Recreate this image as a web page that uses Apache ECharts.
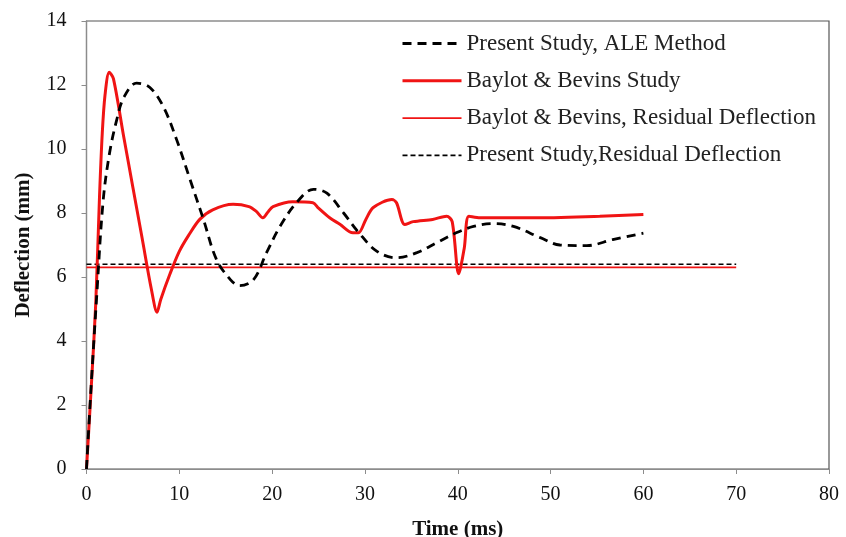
<!DOCTYPE html>
<html><head><meta charset="utf-8">
<script src="https://cdn.jsdelivr.net/npm/echarts@6/dist/echarts.min.js"></script>
<style>html,body{margin:0;padding:0;background:#fff}#c{width:846px;height:537px}</style>
</head><body><div id="c"></div>
<script>
const seriesNames = ['Present Study, ALE Method','Baylot & Bevins Study','Baylot & Bevins, Residual Deflection','Present Study,Residual Deflection'];
const aleTime = [0,0.5,1.1,1.8,2.5,3.25,4.0,5.4,6.8,8.25,9.7,11.15,12.6,14,15.5,16.5,18,19.4,20.85,22.65,24.45,25.9,27.7,29.3,31.3,33.4,35.6,37.8,39.9,41.7,43.8,46,48.9,51,53.9,56.7,60];
const aleDefl = [0,2.6,5.4,8.4,9.9,10.9,11.6,12.06,11.93,11.34,10.3,9.05,7.8,6.55,5.92,5.73,5.92,6.76,7.58,8.33,8.74,8.62,8.0,7.4,6.8,6.6,6.76,7.08,7.39,7.58,7.67,7.58,7.23,7.0,6.98,7.17,7.37];
const bbTime = [0,0.5,1.0,1.4,1.7,2.0,2.45,2.9,4,5,6,7,7.6,8,9,10,11,12.2,13.6,15.8,17.5,18.3,19.0,19.6,20.1,22.2,24.4,25,26.2,27.3,28.7,29.3,30.1,30.9,32.9,33.4,34.3,35.2,37.3,38.8,39.4,40.1,40.7,41.2,42.4,48.1,55.3,60];
const bbDefl = [0,2.5,5.2,8.5,10.5,11.7,12.4,12.2,10.4,8.8,7.2,5.6,4.9,5.3,6.1,6.8,7.3,7.8,8.1,8.27,8.2,8.05,7.85,8.05,8.2,8.35,8.32,8.15,7.85,7.65,7.38,7.38,7.8,8.17,8.42,8.32,7.64,7.73,7.8,7.9,7.73,6.1,6.9,7.9,7.85,7.85,7.9,7.95];
const residualTime = [0,70];
const bbResidual = [6.3,6.3];
const aleResidual = [6.4,6.4];
const xTicks = [0,80,10];
const yTicks = [0,14,2];

const pair = (xs, ys) => xs.map((x,i)=>[x, ys[i]]);
const font = 'Liberation Serif, Times New Roman, serif';
const red = '#f01414';
const styles = [
  {color:'#000', width:2.8, type:[9,6]},
  {color:red, width:3, type:'solid'},
  {color:red, width:1.8, type:'solid'},
  {color:'#000', width:1.6, type:[5,3]}
];
const chart = echarts.init(document.getElementById('c'), null, {renderer:'canvas'});
chart.setOption({
  animation:false,
  backgroundColor:'#fff',
  grid:{left:86.5, right:17, top:21, bottom:68, show:true, borderColor:'#555', borderWidth:1.2,
        containLabel:false, outerBoundsMode:'none'},
  legend:{
    orient:'vertical', left:401, top:32, padding:0, itemWidth:59, itemHeight:14, itemGap:14.3,
    textStyle:{fontFamily:font, fontSize:23, color:'#222'},
    itemStyle:{opacity:0},
    data:seriesNames.map((n,i)=>({name:n, lineStyle:Object.assign({}, styles[i])}))
  },
  xAxis:{type:'value', min:xTicks[0], max:xTicks[1], interval:xTicks[2],
    name:'Time (ms)', nameLocation:'middle', nameGap:50,
    nameTextStyle:{fontFamily:font, fontSize:21, fontWeight:'bold', color:'#111'},
    axisLine:{lineStyle:{color:'#8c8c8c', width:1.2}},
    axisTick:{show:true, length:5, lineStyle:{color:'#8c8c8c'}},
    axisLabel:{fontFamily:font, fontSize:20, color:'#111', margin:16},
    splitLine:{show:false}},
  yAxis:{type:'value', min:yTicks[0], max:yTicks[1], interval:yTicks[2],
    name:'Deflection (mm)', nameLocation:'middle', nameGap:52,
    nameTextStyle:{fontFamily:font, fontSize:21, fontWeight:'bold', color:'#111'},
    axisLine:{show:true, lineStyle:{color:'#8c8c8c', width:1.2}},
    axisTick:{show:true, length:5, lineStyle:{color:'#8c8c8c'}},
    axisLabel:{fontFamily:font, fontSize:20, color:'#111', margin:20},
    splitLine:{show:false}},
  series:[
    {name:seriesNames[0], type:'line', data:pair(aleTime, aleDefl), smooth:0.35, symbol:'none',
      lineStyle:styles[0], itemStyle:{color:'#000'}, z:4},
    {name:seriesNames[1], type:'line', data:pair(bbTime, bbDefl), smooth:0.3, symbol:'none',
      lineStyle:styles[1], itemStyle:{color:red}, z:3},
    {name:seriesNames[2], type:'line', data:pair(residualTime, bbResidual), symbol:'none',
      lineStyle:styles[2], itemStyle:{color:red}, z:2},
    {name:seriesNames[3], type:'line', data:pair(residualTime, aleResidual), symbol:'none',
      lineStyle:styles[3], itemStyle:{color:'#000'}, z:2}
  ]
});
</script></body></html>
